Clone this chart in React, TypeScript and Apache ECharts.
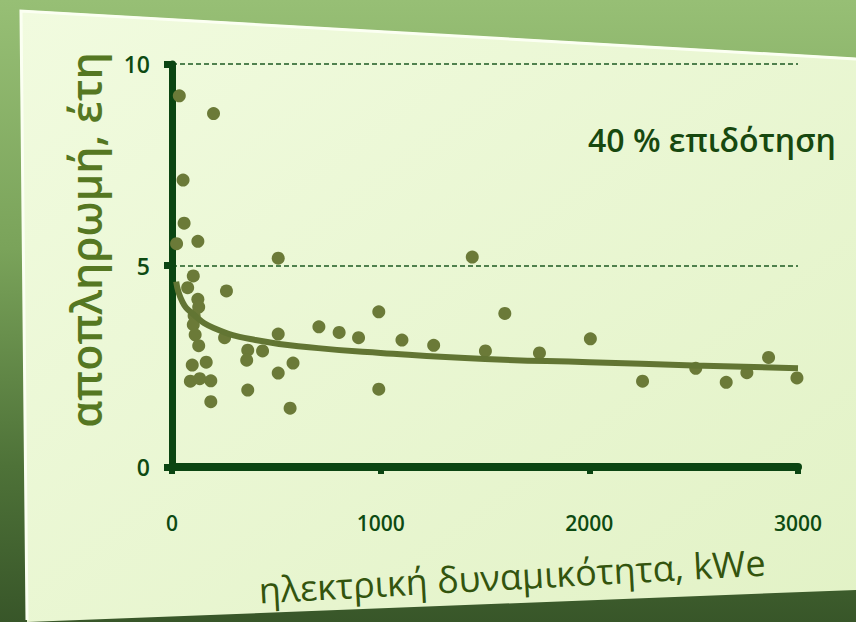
import React, { useEffect, useRef } from "react";
import * as echarts from "echarts";

const capacityKW = [35, 199, 53, 58, 22, 124, 509, 1439, 102, 75, 124, 128, 106, 102, 111, 128, 97, 164, 88, 133, 186, 186, 261, 252, 363, 358, 434, 509, 509, 580, 363, 566, 704, 801, 894, 991, 991, 1102, 1254, 1502, 1595, 1761, 2005, 2255, 2510, 2656, 2755, 2859, 2995];
const paybackYears = [9.21, 8.77, 7.12, 6.05, 5.54, 5.6, 5.18, 5.21, 4.74, 4.45, 4.16, 3.97, 3.75, 3.53, 3.28, 3.01, 2.53, 2.6, 2.13, 2.19, 2.14, 1.62, 4.37, 3.21, 2.9, 2.65, 2.88, 3.3, 2.33, 2.58, 1.91, 1.46, 3.48, 3.34, 3.21, 3.85, 1.93, 3.15, 3.02, 2.88, 3.81, 2.83, 3.18, 2.13, 2.45, 2.1, 2.34, 2.72, 2.21];

const trendX = [20, 50, 100, 200, 400, 700, 1000, 1500, 2000, 2500, 3000];
const trendY = [4.6, 4.1, 3.8, 3.45, 3.15, 2.95, 2.83, 2.68, 2.6, 2.52, 2.45];

const xTicks = [0, 1000, 2000, 3000];
const yTicks = [0, 5, 10];

const xTitle = "ηλεκτρική δυναμικότητα, kWe";
const yTitle = "αποπληρωμή, έτη";
const note = "40 % επιδότηση";

const FONT = "'Open Sans', 'Noto Sans', sans-serif";

export default function App() {
  const ref = useRef<HTMLDivElement>(null);
  useEffect(() => {
    if (!ref.current) return;
    const chart = echarts.init(ref.current, null, { renderer: "svg" });
    const points = capacityKW.map((x, i) => [x, paybackYears[i]]);
    const trend = trendX.map((x, i) => [x, trendY[i]]);
    chart.setOption({
      animation: false,
      backgroundColor: "transparent",
      grid: { left: 172, right: 58, top: 64, bottom: 155 },
      xAxis: {
        type: "value",
        min: 0,
        max: 3000,
        interval: 1000,
        axisLine: { show: true, onZero: false, lineStyle: { color: "#0b4512", width: 8 } },
        axisTick: { show: true, length: 7, lineStyle: { color: "#0b4512", width: 6 } },
        splitLine: { show: false },
        axisLabel: {
          margin: 45,
          color: "#0d4a12",
          fontSize: 21,
          fontWeight: 600,
          fontFamily: FONT,
          formatter: (v: number) => (xTicks.includes(v) ? String(v) : ""),
        },
      },
      yAxis: {
        type: "value",
        min: 0,
        max: 10,
        interval: 5,
        axisLine: { show: true, onZero: false, lineStyle: { color: "#0b4512", width: 7 } },
        axisTick: { show: true, length: 8, lineStyle: { color: "#0b4512", width: 7 } },
        splitLine: { show: true, lineStyle: { color: "#1c5a22", width: 1.5, type: [5, 3] } },
        axisLabel: {
          margin: 22,
          color: "#0d4a12",
          fontSize: 23,
          fontWeight: 600,
          fontFamily: FONT,
          formatter: (v: number) => (yTicks.includes(v) ? String(v) : ""),
        },
      },
      graphic: [
        {
          type: "polygon",
          z: -10,
          shape: { points: [[20, 10], [856, 58], [856, 590], [700, 596], [27, 622]] },
          style: {
            fill: new echarts.graphic.LinearGradient(0, 0, 1, 1, [
              { offset: 0, color: "#f1fbdf" },
              { offset: 1, color: "#e2f2c6" },
            ]),
          },
        },
        {
          type: "polyline",
          z: -9,
          shape: { points: [[27, 620], [21, 11], [856, 59]] },
          style: { stroke: "#fbfff2", lineWidth: 3, fill: null },
        },
        {
          type: "text",
          left: 588,
          top: 123,
          style: { text: note, fontSize: 32, fontWeight: 600, fill: "#17480f", fontFamily: FONT },
        },
        {
          type: "text",
          x: 85,
          y: 240,
          rotation: Math.PI / 2,
          style: {
            text: yTitle,
            fontSize: 43,
            fontWeight: 600,
            fill: "#557722",
            fontFamily: FONT,
            align: "center",
            verticalAlign: "middle",
          },
        },
        {
          type: "text",
          x: 512,
          y: 576,
          rotation: 0.055,
          style: {
            text: xTitle,
            fontSize: 36,
            fill: "#33540e",
            fontFamily: FONT,
            align: "center",
            verticalAlign: "middle",
          },
        },
      ],
      series: [
        {
          type: "scatter",
          data: points,
          symbolSize: 13,
          itemStyle: { color: "#6b7a38", opacity: 1 },
          z: 3,
        },
        {
          type: "line",
          data: trend,
          smooth: true,
          showSymbol: false,
          lineStyle: { color: "#627533", width: 6 },
          z: 4,
        },
      ],
    });
    return () => chart.dispose();
  }, []);
  return (
    <div
      style={{
        position: "fixed",
        left: 0,
        top: 0,
        width: 856,
        height: 622,
        background: "linear-gradient(180deg, #97bf75 0%, #7aa35a 40%, #4e7238 75%, #385629 100%)",
      }}
    >
      <div ref={ref} style={{ width: 856, height: 622 }} />
    </div>
  );
}
